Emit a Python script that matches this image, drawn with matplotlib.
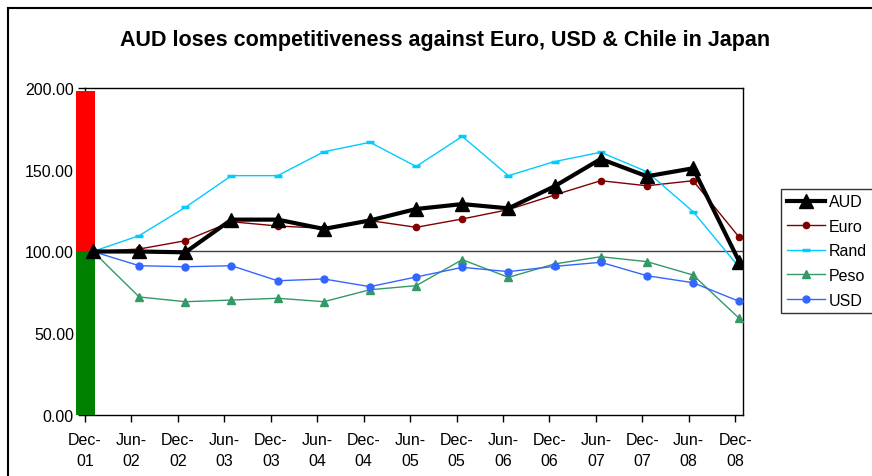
import numpy as np
import matplotlib.pyplot as plt
from matplotlib.lines import Line2D

plt.rcParams['font.family'] = ['Liberation Sans', 'DejaVu Sans']

# 数据
periods = ["Dec-\n01", "Jun-\n02", "Dec-\n02", "Jun-\n03", "Dec-\n03", "Jun-\n04", "Dec-\n04",
           "Jun-\n05", "Dec-\n05", "Jun-\n06", "Dec-\n06", "Jun-\n07", "Dec-\n07", "Jun-\n08",
           "Dec-\n08"]
aud = [100, 100, 99.5, 119.5, 119.5, 113.8, 119, 126, 129, 126.4, 139.9, 156.6, 146, 150.9, 93.8]
euro = [100, 101.5, 106.6, 118.2, 115.6, 114.2, 118.9, 114.8, 119.9, 125.6, 134.6, 143.3, 140.2,
        143.3, 108.7]
rand = [100, 109.7, 127, 146.4, 146.4, 161, 166.8, 152, 170.4, 146.4, 155, 160.7, 148.8, 124.4, 90.3]
peso = [100, 72.2, 69.3, 70.3, 71.4, 69.3, 76.6, 79.1, 95, 84.2, 92.4, 96.8, 93.8, 85.6, 59.1]
usd = [100, 91.3, 90.7, 91.3, 82.1, 83.2, 78.5, 84.4, 90.3, 87.7, 90.9, 93.4, 85.2, 80.9, 69.5]
bar_lose = 98     # 100 以上红色部分
bar_gain = 100    # 100 以下绿色部分

fig = plt.figure(figsize=(8.72, 4.77), dpi=100)
ax = fig.add_axes([0.0975, 0.1279, 0.7546, 0.6855])

idx = np.arange(len(periods))
xs = 0.172 + idx * 0.994   # 折线相对类别刻度略有偏移

# 左侧红绿柱
ax.bar(0, bar_gain, width=0.41, color='#008000', clip_on=False, zorder=3)
ax.bar(0, bar_lose, width=0.41, bottom=bar_gain, color='#ff0000', clip_on=False, zorder=3)

ax.axhline(100, color='#404040', lw=1, zorder=2)

ax.plot(xs, euro, color='#800000', lw=1, marker='o', ms=4.5, label='Euro', zorder=4)
ax.plot(xs, rand, color='#00ccff', lw=1, marker='_', ms=6, mew=2.5, label='Rand', zorder=4)
ax.plot(xs, peso, color='#339966', lw=1, marker='^', ms=6, label='Peso', zorder=4)
ax.plot(xs, usd, color='#3366ff', lw=1, marker='o', ms=5, label='USD', zorder=4)
ax.plot(xs, aud, color='black', lw=3, marker='^', ms=10, label='AUD', zorder=5)

ax.set_xlim(0, 14.17)
ax.set_ylim(0, 200)
ax.set_xticks(idx)
ax.set_xticklabels(periods, fontsize=11.5, linespacing=1.5)
ax.set_yticks([0, 50, 100, 150, 200])
ax.set_yticklabels([f"{v:.2f}" for v in [0, 50, 100, 150, 200]], fontsize=11.5)
ax.tick_params(direction='out', length=5, width=1, color='black', pad=3)
ax.tick_params(axis='x', pad=7)
for s in ax.spines.values():
    s.set_color('black')
    s.set_linewidth(1)

fig.text(0.51, 0.916, "AUD loses competitiveness against Euro, USD & Chile in Japan",
         ha='center', va='center', fontsize=15.5, fontweight='bold')

handles, labels = ax.get_legend_handles_labels()
order = [4, 0, 1, 2, 3]
leg = fig.legend([handles[i] for i in order], [labels[i] for i in order],
                 loc='center left', bbox_to_anchor=(781 / 872, (477 - 252) / 477),
                 fontsize=11.5, frameon=True, fancybox=False, edgecolor='black',
                 handlelength=2.4, handletextpad=0.25, labelspacing=0.6, borderpad=0.35,
                 borderaxespad=0)
leg.get_frame().set_linewidth(1)

# 外框（图表区域）
fig.add_artist(Line2D([8 / 872, 1], [1 - 9 / 477, 1 - 9 / 477], color='black', lw=1.5,
                      transform=fig.transFigure))
fig.add_artist(Line2D([8 / 872, 8 / 872], [0, 1 - 9 / 477], color='black', lw=1.5,
                      transform=fig.transFigure))

fig.savefig("out.png", dpi=100)
